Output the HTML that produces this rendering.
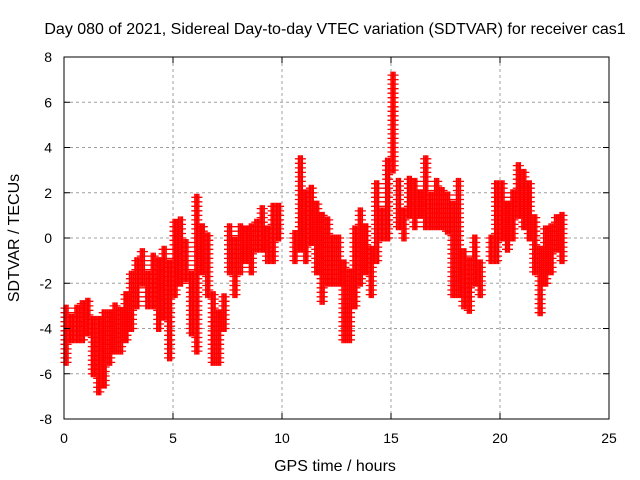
<!DOCTYPE html>
<html><head><meta charset="utf-8"><style>
body{margin:0;background:#fff;}
svg{display:block;font-family:"Liberation Sans",sans-serif;}
</style></head><body>
<svg id="chart" width="640" height="480" viewBox="0 0 640 480">
<text x="335" y="34" font-size="16" text-anchor="middle" fill="#000">Day 080 of 2021, Sidereal Day-to-day VTEC variation (SDTVAR) for receiver cas1</text>
<g id="grid"></g>
<g id="marks"></g>
<rect x="64" y="57" width="545" height="362" fill="none" stroke="#000" stroke-width="1"/>
<g id="ticks"></g>
<text x="335" y="471" font-size="16" text-anchor="middle">GPS time / hours</text>
<text transform="translate(19,238) rotate(-90)" font-size="16" text-anchor="middle">SDTVAR / TECUs</text>
</svg>
<script>
const xTicks=[0,5,10,15,20,25];
const yTicks=[-8,-6,-4,-2,0,2,4,6,8];
const times=[0,0.25,0.5,0.75,1,1.25,1.5,1.75,2,2.25,2.5,2.75,3,3.25,3.5,3.75,4,4.25,4.5,4.75,5,5.25,5.5,5.75,6,6.25,6.5,6.75,7,7.25,7.5,7.75,8,8.25,8.5,8.75,9,9.25,9.5,9.75,10.5,10.75,11,11.25,11.5,11.75,12,12.25,12.5,12.75,13,13.25,13.5,13.75,14,14.25,14.5,14.75,15,15.25,15.5,15.75,16,16.25,16.5,16.75,17,17.25,17.5,17.75,18,18.25,18.5,18.75,19,19.5,19.75,20,20.25,20.5,20.75,21,21.25,21.5,21.75,22,22.25,22.5,22.75];
const lows=[-5.5,-4.5,-4.5,-4.5,-4.2,-6,-6.8,-6.5,-5.5,-5,-5,-4.5,-4,-3,-2,-3,-3,-4,-3.5,-5.3,-2.5,-2,-1.8,-4.2,-5,-1.5,-2.5,-5.5,-5.5,-4,-1.5,-2.5,-1.5,-1,-1.5,-0.5,-0.5,-1,-1,0,-1,-0.5,-1,-0.2,-1.5,-2.8,-2,-2,-2,-4.5,-4.5,-3,-2,-1.5,-2.5,-1,0,0,3,0.5,0,1,0.5,1,0.5,0.5,0.5,0.5,0.3,-2.5,-2.5,-3,-3.2,-2,-2.5,-1,-1,0,-0.5,0,1,0.5,0,-1.5,-3.3,-2,-1.5,-0.5,-1];
const highs=[-3,-3.5,-3,-2.8,-2.8,-3.5,-3.5,-3.2,-3.3,-3,-3.2,-2.5,-1.5,-1,-0.5,-1.5,-0.8,-1,-0.5,-1,0.8,0.8,-0.2,-1.5,1.8,0.5,0.2,-2.5,-3.2,-2.5,0.5,0,0.5,0.5,0.5,0.8,1.3,0.5,1.5,1.5,0.2,3.5,2,2.2,1.5,1,0.8,0,0,-1,-1.5,0.5,1.3,0.5,-0.5,2.5,1.2,3.5,7.2,2.5,1.3,2.7,2.5,2,3.5,2,2.5,2.2,2,1.5,2.5,-0.5,-1,0,-1,0,2.5,2.5,1.5,2,3.2,3,2.5,1,-0.5,0.5,0.5,1,1];
const NS="http://www.w3.org/2000/svg";
const X0=64,X1=609,Y0=419,Y1=57;
function xs(t){return X0+(t-0)/(25-0)*(X1-X0);}
function ys(v){return Y0-(v+8)/16*(Y0-Y1);}
const grid=document.getElementById('grid'),ticks=document.getElementById('ticks'),marks=document.getElementById('marks');
xTicks.forEach(t=>{
  const x=xs(t);
  if(t>0&&t<25){const l=document.createElementNS(NS,'line');
    l.setAttribute('x1',x);l.setAttribute('x2',x);l.setAttribute('y1',Y1);l.setAttribute('y2',Y0);
    l.setAttribute('stroke','#a0a0a0');l.setAttribute('stroke-dasharray','3,3');
    
    
    grid.appendChild(l);}
  const tk=document.createElementNS(NS,'path');
  tk.setAttribute('d',`M${x} ${Y0}v-6M${x} ${Y1}v6`);tk.setAttribute('stroke','#000');
  
  
  ticks.appendChild(tk);
  const tx=document.createElementNS(NS,'text');
  tx.setAttribute('x',x);tx.setAttribute('y',443);tx.setAttribute('font-size','14');tx.setAttribute('text-anchor','middle');
  tx.textContent=t;
  
  
  ticks.appendChild(tx);
});
yTicks.forEach(v=>{
  const y=ys(v);
  if(v>-8&&v<8){const l=document.createElementNS(NS,'line');
    l.setAttribute('x1',X0);l.setAttribute('x2',X1);l.setAttribute('y1',y);l.setAttribute('y2',y);
    l.setAttribute('stroke','#a0a0a0');l.setAttribute('stroke-dasharray','3,3');
    
    
    grid.appendChild(l);}
  const tk=document.createElementNS(NS,'path');
  tk.setAttribute('d',`M${X0} ${y}h6M${X1} ${y}h-6`);tk.setAttribute('stroke','#000');
  
  
  ticks.appendChild(tk);
  const tx=document.createElementNS(NS,'text');
  tx.setAttribute('x',52);tx.setAttribute('y',y+5);tx.setAttribute('font-size','14');tx.setAttribute('text-anchor','end');
  tx.textContent=v;
  
  
  ticks.appendChild(tx);
});
let d='';
times.forEach((t,i)=>{
  const lo=lows[i],hi=highs[i];
  [0,0.0625,0.125,0.1875].forEach(dt=>{
    const x=xs(t+dt);
    for(let v=lo;v<=hi+1e-6;v+=0.2){
      const y=ys(v);
      d+=`M${(x-3.5).toFixed(1)} ${y.toFixed(1)}h7M${x.toFixed(1)} ${(y-3.5).toFixed(1)}v7`;
    }
  });
});
const p=document.createElementNS(NS,'path');
p.setAttribute('d',d);p.setAttribute('stroke','#ff0000');p.setAttribute('stroke-width','1.3');p.setAttribute('fill','none');


marks.appendChild(p);
</script>
</body></html>
